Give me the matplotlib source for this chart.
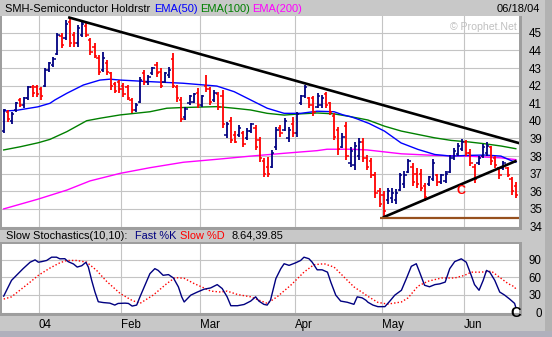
import matplotlib
matplotlib.use('Agg')
import matplotlib.pyplot as plt
from matplotlib.patches import Rectangle
import numpy as np

plt.rcParams['font.family'] = ['Liberation Sans', 'DejaVu Sans']

# ---------------- data ----------------
opens = [39.4, 40.5, 40.0, 40.6, 41.2, 40.9, 41.3, 41.9, 41.9, 41.8,
         42.0, 42.9, 43.2, 43.8, 44.8, 44.7, 45.6, 44.9, 44.4, 44.9,
         45.4, 44.6, 44.2, 43.6, 42.9, 43.3, 42.7, 42.1, 42.2, 42.0,
         41.9, 41.2, 40.6, 41.1, 42.7, 42.2, 42.7, 43.2, 42.8, 42.2,
         42.6, 43.5, 41.9, 41.2, 40.2, 41.0, 41.1, 41.6, 40.9, 42.0,
         41.8, 41.2, 41.5, 41.4, 39.2, 40.0, 39.2, 39.2, 39.3, 39.0,
         39.4, 39.6, 38.9, 37.7, 37.4, 37.4, 38.5, 39.6, 39.5, 39.0,
         39.8, 39.3, 41.0, 41.4, 41.3, 41.3, 40.8, 40.9, 41.5, 41.0,
         40.3, 39.5, 38.5, 39.7, 37.6, 37.5, 38.0, 38.8, 37.9, 37.7,
         36.9, 36.0, 35.8, 35.5, 35.6, 35.5, 36.1, 36.4, 37.1, 37.4,
         37.0, 37.0, 36.3, 36.4, 36.7, 36.9, 36.5, 36.6, 37.1, 37.9,
         38.1, 38.4, 38.8, 38.2, 37.4, 37.6, 38.0, 38.2, 38.5, 37.9,
         37.3, 37.3, 37.3, 36.7, 36.3]
highs = [40.70, 40.62, 40.52, 41.09, 41.28, 41.38, 41.98, 42.04, 42.04, 41.94,
         42.99, 43.36, 43.65, 44.98, 44.98, 45.73, 45.83, 45.07, 45.45, 45.64,
         45.55, 44.69, 44.41, 43.74, 43.93, 43.46, 42.80, 42.23, 42.32, 42.14,
         42.04, 41.28, 41.00, 42.51, 42.89, 42.61, 43.08, 43.36, 42.99, 42.80,
         43.08, 43.84, 42.04, 41.38, 40.81, 41.47, 41.57, 41.85, 41.47, 42.61,
         41.94, 41.76, 41.66, 41.76, 39.95, 40.24, 39.40, 39.77, 39.40, 39.58,
         39.86, 39.77, 39.10, 37.87, 37.97, 38.35, 39.67, 39.77, 40.15, 39.67,
         40.20, 40.50, 41.47, 42.04, 41.38, 41.40, 41.57, 41.47, 41.66, 41.10,
         40.43, 39.67, 39.29, 39.95, 38.53, 38.82, 39.01, 39.01, 38.06, 37.87,
         37.12, 36.17, 36.00, 36.21, 36.17, 36.11, 37.06, 37.15, 37.81, 37.62,
         37.34, 37.25, 36.49, 36.87, 37.81, 36.96, 36.96, 37.15, 38.09, 38.45,
         38.73, 38.96, 38.90, 38.40, 37.55, 38.00, 38.70, 38.80, 38.60, 38.00,
         37.40, 37.70, 37.40, 36.80, 36.50]
lows = [39.30, 39.95, 39.82, 40.52, 40.81, 40.72, 41.19, 41.38, 41.38, 41.19,
        41.94, 42.80, 43.08, 43.74, 44.13, 44.60, 44.22, 44.22, 44.22, 44.78,
        44.78, 43.74, 43.56, 42.61, 42.80, 42.61, 41.76, 41.57, 41.57, 41.38,
        41.19, 40.43, 40.52, 41.00, 42.04, 42.04, 42.61, 42.51, 41.85, 42.14,
        42.42, 41.85, 41.09, 39.95, 40.05, 40.90, 41.00, 40.72, 40.81, 41.66,
        40.90, 41.09, 40.62, 39.58, 39.01, 38.73, 38.73, 39.10, 38.53, 38.91,
        39.30, 38.35, 37.68, 36.83, 36.83, 37.31, 38.35, 39.10, 39.40, 38.82,
        39.10, 39.10, 40.90, 41.28, 40.72, 40.30, 40.72, 40.72, 40.72, 40.33,
        38.91, 38.06, 38.44, 37.78, 37.40, 37.21, 37.78, 37.68, 37.21, 36.74,
        35.60, 35.10, 34.47, 35.26, 35.36, 35.26, 36.02, 36.21, 37.06, 36.30,
        36.21, 36.02, 35.45, 36.30, 36.58, 36.30, 36.40, 36.49, 37.06, 37.80,
        37.98, 38.30, 38.00, 37.45, 36.45, 37.50, 37.90, 38.00, 37.50, 37.35,
        36.70, 37.20, 36.80, 35.80, 35.60]
closes = [40.6, 40.1, 40.4, 41.0, 40.9, 41.3, 41.9, 41.6, 41.5, 41.4,
          42.9, 43.3, 43.5, 44.9, 44.3, 45.5, 44.4, 44.4, 45.3, 45.5,
          44.9, 43.9, 43.7, 42.8, 43.6, 42.8, 42.0, 41.7, 41.8, 41.5,
          41.3, 40.6, 40.9, 42.3, 42.2, 42.5, 43.0, 42.7, 42.0, 42.7,
          42.9, 42.0, 41.3, 40.1, 40.7, 41.4, 41.5, 40.9, 41.4, 41.8,
          41.1, 41.6, 40.8, 39.8, 39.8, 38.9, 38.8, 39.6, 38.7, 39.4,
          39.8, 38.5, 37.9, 37.0, 37.0, 38.2, 39.5, 39.3, 40.0, 39.5,
          39.3, 40.4, 41.4, 41.9, 40.9, 40.5, 41.4, 41.3, 40.9, 40.5,
          39.1, 38.4, 39.1, 38.0, 38.3, 38.6, 38.8, 37.9, 37.4, 36.9,
          35.9, 35.3, 34.9, 36.0, 35.9, 35.9, 36.9, 36.9, 37.7, 36.5,
          36.4, 36.2, 35.7, 36.8, 37.6, 36.5, 36.9, 37.0, 37.9, 38.3,
          38.6, 38.8, 38.2, 37.6, 36.7, 37.9, 38.5, 38.6, 37.7, 37.5,
          36.9, 37.6, 36.9, 36.0, 35.8]

# moving averages, read at points along each curve (x = bar index)
ema50_x = [0, 3.1, 8.3, 11.2, 12.4, 15.3, 19.3, 23.3, 25.7, 28.2, 35.4, 43.4,
           51.6, 55.8, 59.8, 63.8, 67.9, 71.9, 75.9, 80.0, 82.2, 84.0, 85.5,
           88.5, 92.2, 96.2, 100.3, 104.4, 108.3, 112.4, 116.5, 120.4, 122.8, 124.0]
ema50 = [40.56, 40.60, 40.80, 41.00, 41.19, 41.57, 42.04, 42.32, 42.37, 42.32,
         42.23, 42.14, 41.98, 41.66, 41.19, 40.72, 40.43, 40.43, 40.55, 40.52,
         40.34, 40.24, 40.12, 39.85, 39.42, 38.75, 38.38, 38.09, 38.00, 38.04,
         38.06, 38.00, 37.75, 37.65]
ema100_x = [0, 4.0, 8.4, 11.2, 15.3, 20.1, 23.3, 28.2, 31.4, 35.4, 39.5, 43.4,
            51.7, 55.8, 59.8, 63.8, 67.9, 71.9, 75.9, 80.0, 84.0, 88.2, 92.2,
            96.3, 100.3, 104.3, 108.4, 112.4, 116.5, 120.5, 124.0]
ema100 = [38.35, 38.53, 38.76, 38.95, 39.39, 40.01, 40.15, 40.34, 40.42, 40.52,
          40.72, 40.76, 40.81, 40.72, 40.62, 40.43, 40.33, 40.40, 40.45, 40.40,
          40.24, 40.05, 39.70, 39.42, 39.23, 39.04, 38.89, 38.81, 38.70, 38.57, 38.42]
ema200_x = [0, 8.4, 15.3, 20.9, 28.2, 35.4, 43.5, 51.7, 59.8, 67.9, 75.9, 78.3,
            84.0, 88.0, 96.3, 104.4, 112.4, 120.4, 124.0]
ema200 = [35.00, 35.56, 36.07, 36.59, 37.02, 37.34, 37.65, 37.82, 38.00, 38.16,
          38.31, 38.39, 38.39, 38.35, 38.13, 38.04, 38.00, 37.90, 37.80]

# slow stochastics (10,10)
k_x = [0, 0.7, 1.9, 3.1, 4.7, 6.4, 7.6, 8.4, 9.2, 10.4,
       11.6, 12.8, 13.6, 14.8, 15.6, 16.9, 17.8, 18.9, 19.9, 20.5,
       21.3, 22.1, 22.9, 24.1, 25.7, 26.9, 27.7, 29.4, 30.2, 31.1,
       32.2, 33.0, 34.2, 35.4, 36.6, 37.4, 38.6, 39.9, 41.1, 42.3,
       43.1, 43.7, 45.3, 46.9, 48.5, 50.1, 51.7, 52.9, 54.1, 55.0,
       56.6, 58.2, 59.8, 61.0, 61.8, 63.0, 63.8, 64.6, 65.9, 67.1,
       67.9, 69.1, 70.7, 71.9, 72.7, 73.9, 74.7, 75.9, 77.1, 78.4,
       79.2, 80.4, 81.6, 83.2, 84.8, 85.6, 86.8, 87.7, 88.2, 89.4,
       90.6, 92.3, 93.5, 94.7, 96.3, 97.5, 98.7, 99.9, 100.7, 101.9,
       103.1, 104.4, 105.6, 106.9, 108.0, 109.2, 110.8, 112.0, 113.2, 114.0,
       115.1, 116.1, 116.9, 117.7, 118.9, 120.1, 121.3, 122.5, 123.7, 124.0]
k_val = [28, 38, 55, 63.6, 75, 86, 90, 86, 87, 89,
         94.6, 94.6, 91.8, 92, 87, 83, 77.7, 80, 85.8, 77.7,
         55, 35, 18.4, 17, 16, 12.7, 15.5, 16, 15.5, 11,
         12.7, 26.8, 46.6, 66.4, 75, 72, 63.6, 64.8, 59, 43.8,
         26.8, 18, 29.7, 35, 39.8, 42, 47.7, 41, 26.8, 11.6,
         11.6, 13.7, 19.5, 26.8, 19.5, 13.9, 12.7, 21, 58, 75,
         83.4, 80.6, 85, 89, 94.6, 92, 86, 73, 73, 69,
         52, 29.7, 19.5, 17.5, 14, 26.8, 25, 21, 17.5, 12.7,
         10, 10, 19.5, 29.7, 38, 58, 79, 83.4, 69, 46.6,
         44, 47.7, 49, 52, 75, 87, 91.8, 86, 63.6, 47.7,
         38, 55, 72, 69, 55, 35, 29.7, 23, 15.6, 8.64]
d_x = [0, 1.9, 3.9, 6.4, 8.4, 11.2, 13.6, 15.3, 17.7, 20.1,
       22.5, 24.9, 28.2, 31.0, 33.0, 36.2, 39.5, 41.5, 43.7, 46.1,
       48.5, 50.1, 52.5, 54.1, 56.6, 59.8, 63.8, 66.2, 69.5, 72.7,
       75.1, 77.6, 80.0, 82.4, 84.8, 87.2, 88.2, 90.6, 93.0, 96.3,
       97.9, 100.3, 102.7, 106.0, 109.2, 111.6, 113.2, 115.6, 118.1, 120.5,
       122.1, 123.7, 124.0]
d_val = [23, 26.8, 38, 52, 63.6, 76, 85, 89, 89, 86,
         72, 53.4, 32.5, 21, 15.6, 29.7, 49.5, 59.7, 58.5, 49.5,
         42, 36.6, 35, 36.6, 30.8, 26.8, 15.6, 26.8, 46.6, 69,
         81.7, 83.4, 77.6, 60.7, 43.8, 32.5, 27.5, 17.3, 14.4, 18,
         25, 45, 53.4, 59, 59, 63.6, 69, 69, 70.6, 58,
         49.5, 43.8, 39.85]

# drawn trend lines (bar index, price)
down_x, down_y = [15.6, 124.9], [45.89, 38.73]
up_x, up_y = [91.8, 124.2], [34.51, 37.74]
supp_x, supp_y = [91.1, 124.8], [34.50, 34.50]

month_start = [9, 29, 48, 71, 92, 112]
month_labels = ['04', 'Feb', 'Mar', 'Apr', 'May', 'Jun']
price_ticks = list(range(34, 46))
stoch_ticks = [0, 30, 60, 90]

# ---------------- figure ----------------
W, H = 552, 337
BG = '#c8c8c8'
BORDER = '#9e9e9e'
FS = 8.3
FS_HDR = 8.0
fig = plt.figure(figsize=(W / 100, H / 100), dpi=100, facecolor=BG)


def px_axes(x0, y0, x1, y1):
    return fig.add_axes([x0 / W, 1 - y1 / H, (x1 - x0) / W, (y1 - y0) / H])


def px_rect(x0, y0, x1, y1, color):
    fig.add_artist(Rectangle((x0 / W, 1 - y1 / H), (x1 - x0) / W, (y1 - y0) / H,
                             transform=fig.transFigure, facecolor=color,
                             edgecolor='none', zorder=5))


def px_text(x, y, s, **kw):
    fig.text(x / W, 1 - y / H, s, fontsize=kw.pop('fontsize', FS_HDR), va='center',
             zorder=6, **kw)


ax = px_axes(2, 16, 519, 226.5)
ax2 = px_axes(2, 243.5, 519, 312.5)
for a in (ax, ax2):
    a.set_facecolor('white')
    for s in a.spines.values():
        s.set_visible(False)
    a.set_xlim(-0.41, 124.77)
    a.set_xticks([m - 0.5 for m in month_start])
    a.grid(True, color='#c4c4c4', lw=0.8)
    a.set_axisbelow(True)
    a.tick_params(length=0, labelsize=FS, colors='black')
    a.yaxis.tick_right()

# ---- price panel ----
ax.set_ylim(34.0, 45.96)
ax.set_yticks(price_ticks)
ax.set_xticklabels([])
ax.tick_params(axis='y', pad=16.6)
for t in ax.get_yticklabels():
    t.set_horizontalalignment('right')

ax.plot(ema200_x, ema200, color='#ff00ff', lw=1.0, zorder=2)
ax.plot(ema100_x, ema100, color='#008000', lw=1.0, zorder=2)
ax.plot(ema50_x, ema50, color='#0000ff', lw=1.0, zorder=2)

idx = np.arange(len(closes))
o = np.array(opens)
c = np.array(closes)
cols = np.where(c >= o, '#000080', '#ff0000')
ax.vlines(idx, lows, highs, colors=cols, lw=1.3, zorder=3)
ax.hlines(o, idx - 0.55, idx, colors=cols, lw=1.1, zorder=3)
ax.hlines(c, idx, idx + 0.55, colors=cols, lw=1.1, zorder=3)

ax.plot(down_x, down_y, color='black', lw=1.9, zorder=4, solid_capstyle='butt')
ax.plot(up_x, up_y, color='black', lw=1.9, zorder=4, solid_capstyle='butt')
ax.plot(supp_x, supp_y, color='#96501e', lw=1.6, zorder=4, solid_capstyle='butt')

# ---- stochastics panel ----
ax2.set_ylim(0, 118)
ax2.set_yticks(stoch_ticks)
ax2.tick_params(axis='y', pad=16.2)
for t in ax2.get_yticklabels():
    t.set_horizontalalignment('right')
ax2.set_xticklabels(month_labels, ha='left')
ax2.tick_params(axis='x', pad=4.5)
ax2.plot(d_x, d_val, color='#ff0000', lw=1.0, linestyle=(0, (1, 1.5)), zorder=3)
ax2.plot(k_x, k_val, color='#000080', lw=1.0, zorder=4)

# ---- frame bands ----
px_rect(0, 16, 2, 230, BORDER)
px_rect(519, 16, 522, 230, BORDER)
px_rect(0, 226.5, 522, 230, BORDER)
px_rect(0, 242, 522, 243.5, BORDER)
px_rect(0, 243.5, 2, 316, BORDER)
px_rect(519, 242, 522, 316, BORDER)
px_rect(0, 312.5, 522, 316, BORDER)
px_rect(545, 0, 552, 337, '#b2b2b2')
px_rect(0, 331, 552, 337, '#b0b0bc')

# ---- texts ----
px_text(5, 8.5, 'SMH-Semiconductor Holdrstr', color='black')
px_text(154, 8.5, 'EMA(50)', color='#0000ff')
px_text(200, 8.5, 'EMA(100)', color='#008000')
px_text(252, 8.5, 'EMA(200)', color='#ff00ff')
px_text(540, 8.5, '06/18/04', color='black', ha='right')
px_text(450, 26.5, '\u00a9 Prophet.Net', color='#c0c0c0', fontsize=7.6)
px_text(461, 191, 'C', color='#ff0000', fontweight='bold', ha='center', fontsize=9)

px_text(6, 236, 'Slow Stochastics(10,10):', color='black', fontsize=7.9)
px_text(135, 236, 'Fast %K', color='#000080', fontsize=7.9)
px_text(180, 236, 'Slow %D', color='#ff0000', fontsize=7.9)
px_text(232, 236, '8.64,39.85', color='black', fontsize=7.9)
px_text(516, 313, 'C', fontsize=10.5, fontweight='bold', color='black', ha='center')

fig.savefig('out.png', dpi=100, facecolor=BG)
